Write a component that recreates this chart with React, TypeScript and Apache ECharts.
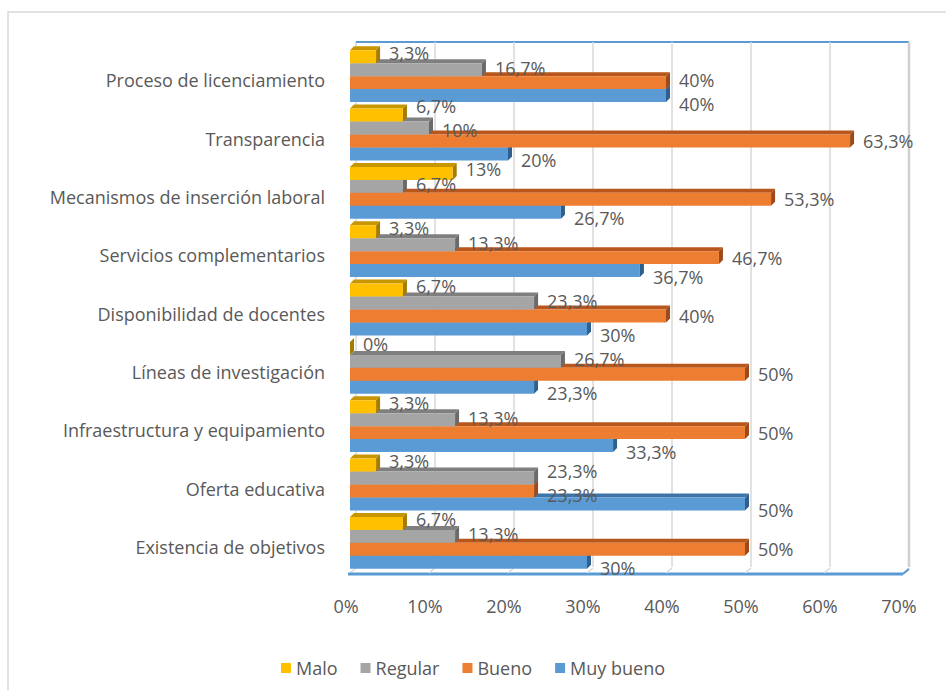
import React, { useEffect, useRef } from "react";
import * as echarts from "echarts";

const categories = [
  "Proceso de licenciamiento",
  "Transparencia",
  "Mecanismos de inserción laboral",
  "Servicios complementarios",
  "Disponibilidad de docentes",
  "Líneas de investigación",
  "Infraestructura y equipamiento",
  "Oferta educativa",
  "Existencia de objetivos",
];
const seriesNames = ["Malo", "Regular", "Bueno", "Muy bueno"];
const malo = [3.3, 6.7, 13, 3.3, 6.7, 0, 3.3, 3.3, 6.7];
const regular = [16.7, 10, 6.7, 13.3, 23.3, 26.7, 13.3, 23.3, 13.3];
const bueno = [40, 63.3, 53.3, 46.7, 40, 50, 50, 23.3, 50];
const muyBueno = [40, 20, 26.7, 36.7, 30, 23.3, 33.3, 50, 30];
const xTicks = [0, 10, 20, 30, 40, 50, 60, 70];

const values = [malo, regular, bueno, muyBueno];
const frontColors = ["#FFC000", "#A5A5A5", "#ED7D31", "#5B9BD5"];
const topColors = ["#C89600", "#7F7F7F", "#B8561C", "#3F74A8"];
const sideColors = ["#A67C00", "#6A6A6A", "#9C4A18", "#2F5F8F"];
const labelOffsets = [-4, -2, 0, 6];

const FONT = "'Open Sans', 'Liberation Sans', sans-serif";
const FS = 18;
const TXT = "#595959";
const D = 4;

const fmt = (v: number) => String(v).replace(".", ",") + "%";

export default function App() {
  const ref = useRef<HTMLDivElement>(null);
  useEffect(() => {
    document.body.style.margin = "0";
    const chart = echarts.init(ref.current!, null, { renderer: "svg" });

    const barSeries = seriesNames.map((name, k) => ({
      type: "custom",
      name,
      z: 10 - k,
      itemStyle: { color: frontColors[k] },
      encode: { x: 0, y: 1 },
      data: values[k].map((v, i) => [v, i]),
      renderItem: (params: any, api: any) => {
        const v = api.value(0);
        const ci = api.value(1);
        const p1 = api.coord([v, ci]);
        const p0 = api.coord([0, ci]);
        const band = api.size([0, 1])[1];
        const h = band * 0.222;
        const yt = p1[1] - 2 * h + k * h;
        const yb = yt + h;
        const x0 = p0[0];
        const x1 = p1[0];
        return {
          type: "group",
          children: [
            {
              type: "polygon",
              shape: { points: [[x0, yt], [x1, yt], [x1 + D, yt - D], [x0 + D, yt - D]] },
              style: { fill: topColors[k] },
            },
            {
              type: "polygon",
              shape: { points: [[x1, yt], [x1 + D, yt - D], [x1 + D, yb - D], [x1, yb]] },
              style: { fill: sideColors[k] },
            },
            {
              type: "rect",
              shape: { x: x0, y: yt, width: Math.max(x1 - x0, 0), height: h },
              style: { fill: frontColors[k] },
            },
          ],
        };
      },
    }));

    const labelSeries = {
      type: "custom",
      name: "labels",
      z: 20,
      encode: { x: 0, y: 1 },
      data: categories.map((_, i) => [0, i]),
      renderItem: (params: any, api: any) => {
        const ci = api.value(1);
        const band = api.size([0, 1])[1];
        const h = band * 0.222;
        const labels: any[] = [];
        for (let k = 0; k < 4; k++) {
          const v = values[k][ci];
          const p = api.coord([v, ci]);
          const yt = p[1] - 2 * h + k * h;
          const text = fmt(v);
          const x = p[0] + D + 9;
          labels.push({ text, x, w: text.length * 10.5, y: yt + h / 2 + labelOffsets[k] });
        }
        // simple collision avoidance between neighbouring labels
        const SEP = 24;
        for (let k = 1; k < 4; k++) {
          const a = labels[k - 1];
          const b = labels[k];
          const overlapX = a.x < b.x + b.w && b.x < a.x + a.w;
          const dy = b.y - a.y;
          if (overlapX && dy < SEP) {
            const need = SEP - dy;
            a.y -= need * 0.6;
            b.y += need * 0.4;
          }
        }
        return {
          type: "group",
          children: labels.map((l) => ({
            type: "text",
            style: {
              text: l.text,
              x: l.x,
              y: l.y,
              fill: TXT,
              font: `${FS}px ${FONT}`,
              textAlign: "left",
              textVerticalAlign: "middle",
            },
          })),
        };
      },
    };

    const wallSeries = {
      type: "custom",
      name: "walls",
      z: 1,
      silent: true,
      encode: { x: 0, y: 1 },
      data: xTicks.map((t) => [t, 0]),
      renderItem: (params: any, api: any) => {
        const cs = params.coordSys;
        const t = api.value(0);
        const x = api.coord([t, 0])[0];
        const top = cs.y;
        const bottom = cs.y + cs.height;
        const dx = 6;
        const dy = 5;
        const last = t === xTicks[xTicks.length - 1];
        const children: any[] = [
          {
            type: "line",
            shape: { x1: x + dx, y1: top - dy, x2: x + dx, y2: bottom - dy },
            style: { stroke: last ? "#D0D0D0" : "#D9D9D9", lineWidth: last ? 2.5 : 1.5 },
          },
          {
            type: "line",
            shape: { x1: x, y1: bottom + 1, x2: x + dx, y2: bottom - dy + 1 },
            style: { stroke: "#D9D9D9", lineWidth: 1.5 },
          },
        ];
        if (t === xTicks[0]) {
          children.push({
            type: "line",
            shape: { x1: x + dx, y1: top - dy, x2: cs.x + cs.width + dx, y2: top - dy },
            style: { stroke: "#5B9BD5", lineWidth: 2 },
          });
          children.push({
            type: "line",
            shape: { x1: cs.x - 2, y1: bottom + 2, x2: cs.x + cs.width, y2: bottom + 2 },
            style: { stroke: "#5B9BD5", lineWidth: 3 },
          });
        }
        if (last) {
          children.push({
            type: "line",
            shape: { x1: x, y1: bottom + 2, x2: x + dx, y2: bottom - dy + 2 },
            style: { stroke: "#5B9BD5", lineWidth: 2 },
          });
        }
        return { type: "group", children };
      },
    };

    chart.setOption({
      animation: false,
      backgroundColor: "#ffffff",
      textStyle: { fontFamily: FONT },
      graphic: [
        {
          type: "rect",
          silent: true,
          shape: { x: 8, y: 12, width: 960, height: 720 },
          style: { fill: "none", stroke: "#D9D9D9", lineWidth: 1.5 },
        },
      ],
      grid: { left: 350, right: 43, top: 47, bottom: 118, containLabel: false },
      legend: {
        data: seriesNames,
        top: 654,
        left: "center",
        icon: "rect",
        itemWidth: 10,
        itemHeight: 10,
        itemGap: 23,
        textStyle: { color: TXT, fontSize: FS, fontFamily: FONT },
      },
      xAxis: {
        type: "value",
        min: 0,
        max: 70,
        interval: 10,
        axisLine: { show: false },
        axisTick: { show: false },
        splitLine: { show: false },
        axisLabel: {
          formatter: "{value}%",
          color: TXT,
          fontSize: FS,
          fontFamily: FONT,
          margin: 25,
          padding: [0, 8, 0, 0],
        },
      },
      yAxis: {
        type: "category",
        inverse: true,
        data: categories,
        axisLine: { show: false },
        axisTick: { show: false },
        splitLine: { show: false },
        axisLabel: {
          color: TXT,
          fontSize: FS,
          fontFamily: FONT,
          margin: 25,
          verticalAlign: "top",
          lineHeight: 8,
        },
      },
      series: [wallSeries, ...barSeries, labelSeries],
    });
    return () => chart.dispose();
  }, []);
  return <div ref={ref} style={{ width: 946, height: 690 }} />;
}
